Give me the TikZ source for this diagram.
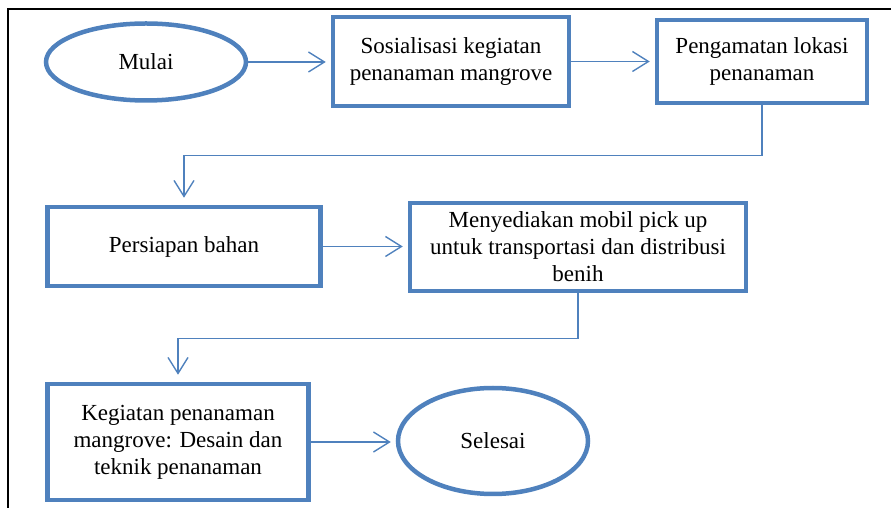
\documentclass[tikz,border=0pt]{standalone}
\usepackage{fontspec}
\setmainfont{Liberation Serif}
\usepackage{xcolor}
\usepackage{tikz}
\usetikzlibrary{arrows.meta,positioning,shapes.geometric,calc}
\definecolor{flowblue}{HTML}{4F81BD}

\begin{document}
\begin{tikzpicture}[
  x=1pt, y=1pt,
  every node/.style={font=\fontsize{23}{27}\selectfont, align=center},
  stepbox/.style={draw=flowblue, line width=4.5pt, rectangle, inner sep=2pt},
  terminal/.style={draw=flowblue, line width=4.5pt, ellipse, inner sep=0pt},
  flow/.style={draw=flowblue, line width=1.4pt, shorten >=5pt,
    -{Straight Barb[length=16pt, width=20pt, line width=1.4pt]}}
]
\useasboundingbox (0,0) rectangle (891,508);
% frame
\draw[line width=1.8pt] (8,-5) -- (8,499) -- (896,499);

% top row
\node[terminal, minimum width=200, minimum height=77] (mulai) at (146,446) {Mulai};
\node[stepbox, minimum width=236, minimum height=89] (sosialisasi) at (451,446.5)
  {Sosialisasi kegiatan\\penanaman mangrove};
\node[stepbox, minimum width=210, minimum height=83] (pengamatan) at (762,446.5)
  {Pengamatan lokasi\\penanaman};

% middle row
\node[stepbox, minimum width=273, minimum height=79] (persiapan) at (184,261.5)
  {Persiapan bahan};
\node[stepbox, minimum width=336, minimum height=88] (mobil) at (578,261)
  {Menyediakan mobil pick up\\untuk transportasi dan distribusi\\benih};

% bottom row
\node[stepbox, minimum width=261, minimum height=116] (penanaman) at (178,66)
  {Kegiatan penanaman\\mangrove: Desain dan\\teknik penanaman};
\node[terminal, minimum width=190, minimum height=106] (selesai) at (493,67)
  {Selesai};

% connectors
\draw[flow] (mulai.east) -- (mulai.east -| sosialisasi.west);
\draw[flow] (sosialisasi.east) -- (sosialisasi.east -| pengamatan.west);
\draw[flow, shorten >=7pt] (pengamatan.south) -- ++(0,-50) -| (persiapan.north);
\draw[flow] (persiapan.east) -- (persiapan.east -| mobil.west);
\draw[flow, shorten >=7pt] (mobil.south) -- ++(0,-45) -| (penanaman.north);
\draw[flow] (penanaman.east) -- (penanaman.east -| selesai.west);
\end{tikzpicture}
\end{document}
